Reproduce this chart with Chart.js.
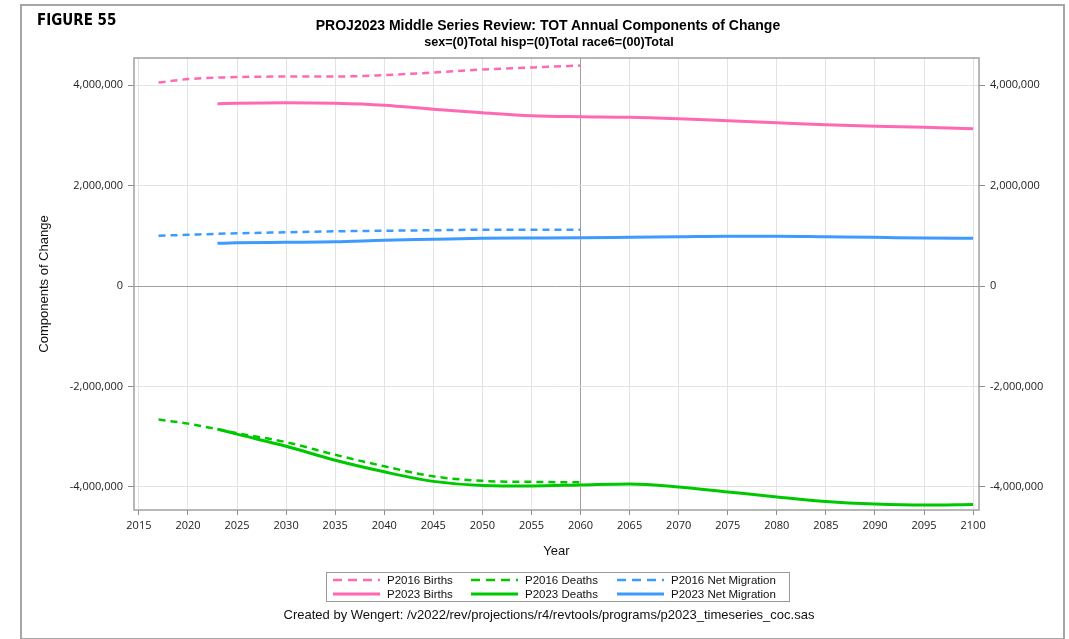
<!DOCTYPE html>
<html>
<head>
<meta charset="utf-8">
<script src="https://cdn.jsdelivr.net/npm/chart.js@4.4.1/dist/chart.umd.min.js"></script>
<style>
    html, body { margin: 0; padding: 0; background: #fff; }
    #wrap { position: relative; width: 1069px; height: 639px; overflow: hidden; }
    #chart { position: absolute; left: 0; top: 0; }
    #frame { position: absolute; left: 20px; top: 4px; width: 1041px; height: 632px; border: 2px solid #a6a6a6; }
    .txt { position: absolute; white-space: nowrap; color: #000; }
    #figure { left: 37px; top: 11px; font: bold 15px "Liberation Sans Narrow", "DejaVu Sans Condensed", sans-serif; }
    #title { left: 548px; top: 17px; transform: translateX(-50%); font: bold 14px "Liberation Sans", Arial, sans-serif; }
    #subtitle { left: 549px; top: 35px; transform: translateX(-50%); font: bold 12.6px "Liberation Sans", Arial, sans-serif; }
    #footer { left: 549px; top: 607px; transform: translateX(-50%); font: 13px "Liberation Sans", Arial, sans-serif; color: #111; }
    #legend { position: absolute; left: 326px; top: 572px; width: 462px; height: 28px; border: 1px solid #999; }
    .item { position: absolute; height: 14px; font: 11.5px "Liberation Sans", Arial, sans-serif; line-height: 14px; color: #111; }
    .item svg { position: absolute; left: 0; top: 0; }
    .item span { position: absolute; left: 55px; top: 0; white-space: nowrap; }
</style>
</head>
<body>
<div id="wrap">
    <canvas id="chart" width="1069" height="639"></canvas>
    <div id="frame"></div>
    <div class="txt" id="figure">FIGURE 55</div>
    <div class="txt" id="title">PROJ2023 Middle Series Review: TOT Annual Components of Change</div>
    <div class="txt" id="subtitle">sex=(0)Total hisp=(0)Total race6=(00)Total</div>
    <div id="legend"></div>
    <div class="txt" id="footer">Created by Wengert: /v2022/rev/projections/r4/revtools/programs/p2023_timeseries_coc.sas</div>
</div>
<script>
// years for each projection vintage
const p2016Years = [2017, 2020, 2025, 2030, 2035, 2040, 2045, 2050, 2055, 2060];
const p2023Years = [2023, 2025, 2030, 2035, 2040, 2045, 2050, 2055, 2060, 2065, 2070, 2075, 2080, 2085, 2090, 2095, 2100];

// components of change (persons)
const p2016Births = [4050000, 4120000, 4160000, 4170000, 4170000, 4200000, 4250000, 4310000, 4350000, 4390000];
const p2016Deaths = [-2660000, -2740000, -2930000, -3110000, -3360000, -3590000, -3790000, -3880000, -3900000, -3910000];
const p2016NetMig = [1000000, 1020000, 1050000, 1070000, 1090000, 1100000, 1110000, 1120000, 1120000, 1120000];

const p2023Births = [3630000, 3640000, 3650000, 3640000, 3600000, 3520000, 3450000, 3390000, 3370000, 3360000, 3330000, 3290000, 3250000, 3210000, 3180000, 3160000, 3130000];
const p2023Deaths = [-2850000, -2950000, -3190000, -3470000, -3700000, -3890000, -3970000, -3980000, -3960000, -3940000, -4000000, -4100000, -4200000, -4290000, -4340000, -4360000, -4350000];
const p2023NetMig = [850000, 860000, 870000, 880000, 910000, 930000, 950000, 955000, 960000, 970000, 980000, 990000, 990000, 980000, 970000, 955000, 950000];

const xTicks = [2015, 2020, 2025, 2030, 2035, 2040, 2045, 2050, 2055, 2060, 2065, 2070, 2075, 2080, 2085, 2090, 2095, 2100];
const yTicks = [-4000000, -2000000, 0, 2000000, 4000000];

const PINK = '#ff69b4';
const GREEN = '#00c800';
const BLUE = '#3d9bff';
const DASH = [7, 5];

function points(years, values) {
    return years.map((x, i) => ({ x: x, y: values[i] }));
}

function series(label, years, values, color, dashed) {
    return {
        label: label,
        data: points(years, values),
        borderColor: color,
        backgroundColor: color,
        borderWidth: dashed ? 2.5 : 3,
        borderDash: dashed ? DASH : [],
        pointRadius: 0,
        cubicInterpolationMode: 'monotone',
        fill: false
    };
}

const datasets = [
    series('P2016 Births', p2016Years, p2016Births, PINK, true),
    series('P2016 Deaths', p2016Years, p2016Deaths, GREEN, true),
    series('P2016 Net Migration', p2016Years, p2016NetMig, BLUE, true),
    series('P2023 Births', p2023Years, p2023Births, PINK, false),
    series('P2023 Deaths', p2023Years, p2023Deaths, GREEN, false),
    series('P2023 Net Migration', p2023Years, p2023NetMig, BLUE, false)
];

const tickFont = { family: '"Open Sans", sans-serif', size: 11 };
const fmt = v => Number(v).toLocaleString('en-US');

// box around the plot area
const plotFrame = {
    id: 'plotFrame',
    afterDraw(chart) {
        const a = chart.chartArea;
        const ctx = chart.ctx;
        ctx.save();
        ctx.strokeStyle = '#a0a0a0';
        ctx.lineWidth = 1.5;
        ctx.strokeRect(a.left, a.top, a.right - a.left, a.bottom - a.top);
        ctx.restore();
    }
};

const yScale = (position) => ({
    type: 'linear',
    position: position,
    min: -4460000,
    max: 4540000,
    afterBuildTicks: s => { s.ticks = yTicks.map(v => ({ value: v })); },
    afterFit: s => { s.width = position === 'left' ? 134 : 90; },
    grid: {
        display: true,
        drawOnChartArea: position === 'left',
        color: c => (c.tick && c.tick.value === 0) ? '#a0a0a0' : '#e3e3e3',
        tickColor: '#8c8c8c',
        tickLength: 6
    },
    border: { display: false },
    ticks: { font: tickFont, color: '#222', padding: 5, callback: fmt },
    title: position === 'left' ? {
        display: true,
        text: 'Components of Change',
        font: { family: '"Liberation Sans", Arial, sans-serif', size: 13 },
        color: '#111',
        padding: { top: 37, bottom: 0 }
    } : { display: false }
});

const chart = new Chart(document.getElementById('chart'), {
    type: 'line',
    data: { datasets: datasets },
    plugins: [plotFrame],
    options: {
        responsive: false,
        animation: false,
        layout: { padding: { top: 58, left: 0, right: 0, bottom: 79 } },
        plugins: {
            legend: { display: false },
            tooltip: { enabled: false }
        },
        scales: {
            x: {
                type: 'linear',
                min: 2014.5,
                max: 2100.6,
                afterBuildTicks: s => { s.ticks = xTicks.map(v => ({ value: v })); },
                afterFit: s => { s.height = 50; },
                grid: {
                    color: c => (c.tick && c.tick.value === 2060) ? '#a0a0a0' : '#e3e3e3',
                    tickColor: '#8c8c8c',
                    tickLength: 5
                },
                border: { display: false },
                ticks: { font: tickFont, color: '#222', padding: 4, maxRotation: 0, autoSkip: false, callback: v => String(v) },
                title: {
                    display: true,
                    text: 'Year',
                    font: { family: '"Liberation Sans", Arial, sans-serif', size: 13 },
                    color: '#111',
                    padding: { top: 0, bottom: 1 }
                }
            },
            y: yScale('left'),
            y2: yScale('right')
        }
    }
});

// legend laid out 3 columns x 2 rows like the SAS output
const legendBox = document.getElementById('legend');
const colX = [5, 143, 289];
const rowY = [0, 14];
chart.data.datasets.forEach((ds, i) => {
    const item = document.createElement('div');
    item.className = 'item';
    item.style.left = colX[i % 3] + 'px';
    item.style.top = rowY[Math.floor(i / 3)] + 'px';
    const dash = ds.borderDash.length ? 'stroke-dasharray="9 6"' : '';
    item.innerHTML =
        '<svg width="50" height="14"><line x1="1" y1="7" x2="48" y2="7" stroke="' + ds.borderColor +
        '" stroke-width="' + ds.borderWidth + '" ' + dash + '/></svg><span>' + ds.label + '</span>';
    legendBox.appendChild(item);
});
</script>
</body>
</html>
